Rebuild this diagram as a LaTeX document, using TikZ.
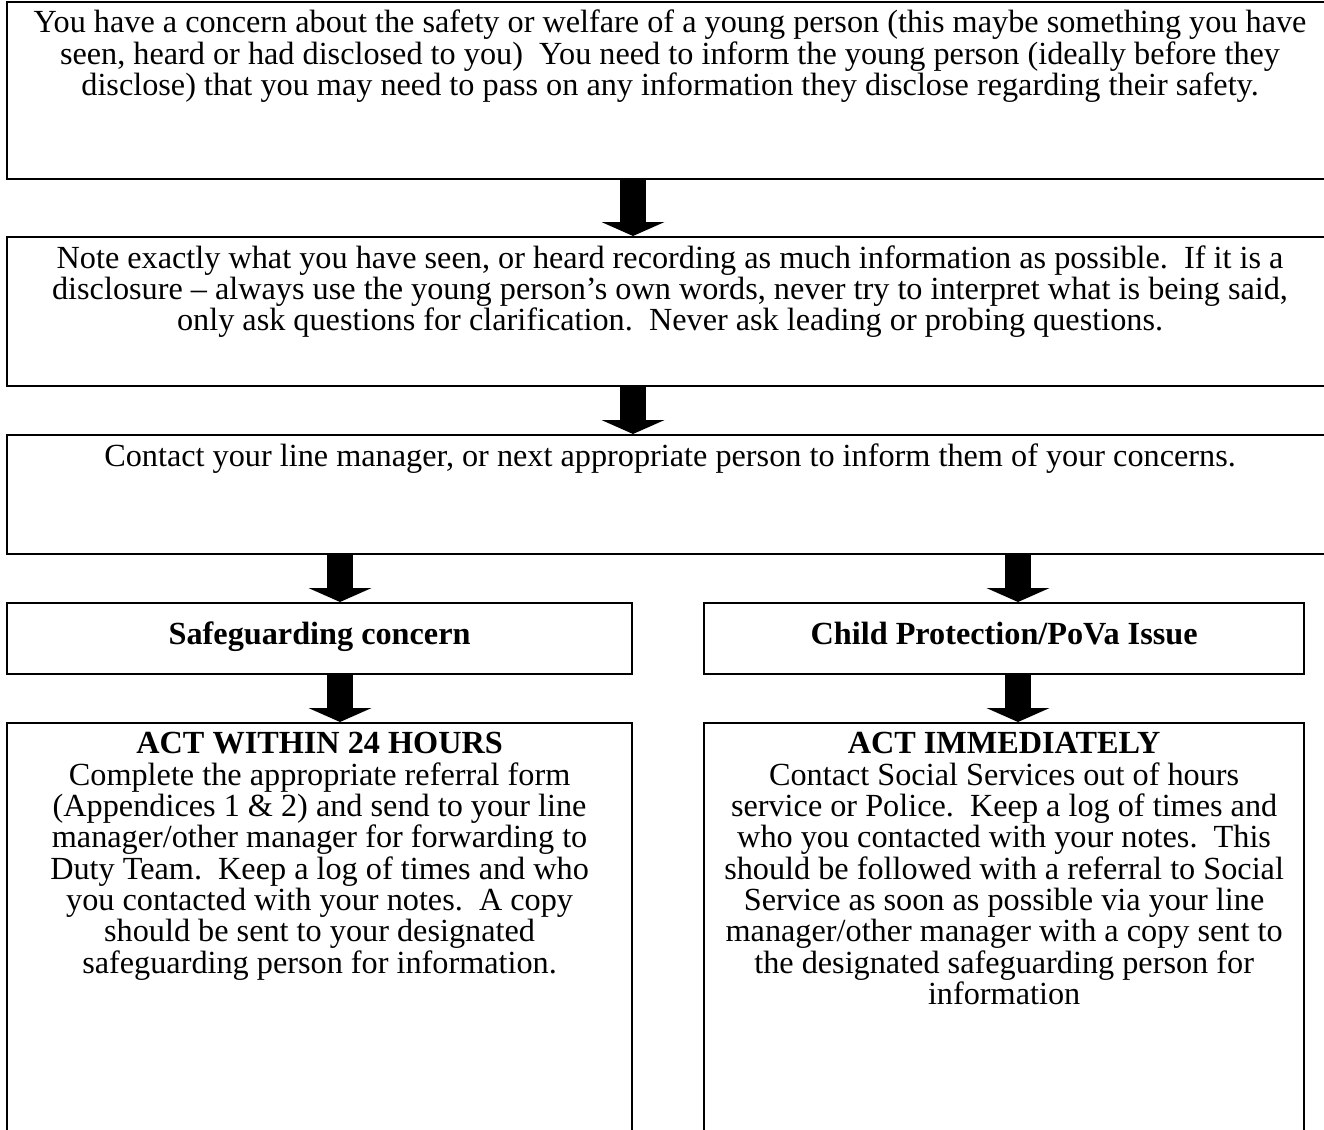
\documentclass[tikz,border=0pt]{standalone}
\usepackage{fontspec}
\setmainfont{Liberation Serif}
\usetikzlibrary{positioning,calc,arrows.meta}

\begin{document}
\begin{tikzpicture}[x=0.445pt,y=-0.445pt,
	font=\fontsize{14.35}{13.95}\selectfont,
	frame/.style={draw, line width=1pt, anchor=north west, inner sep=0pt},
	txt/.style={align=center, inner sep=0pt},
	head/.style={font=\fontsize{14.35}{13.95}\selectfont\bfseries, text height=10pt, text depth=5pt},
	bigarrow/.style={line width=12pt, -{Triangle[width=28pt, length=6.2pt, line width=0pt]}}]

	\useasboundingbox (0,0) rectangle (1324,1130);
	\clip (0,0) rectangle (1324,1130);

	% boxes
	\node[frame,
		minimum width=590pt,
		minimum height=78.8pt
	] (concern) at (6,1) {};

	\node[frame,
		minimum width=590pt,
		minimum height=66.3pt
	] (note) at (6,236) {};

	\node[frame,
		minimum width=590pt,
		minimum height=53pt
	] (contact) at (6,434) {};

	\node[frame, head,
		minimum width=278.1pt,
		minimum height=31.6pt
	] (safe) at (6,602) {Safeguarding concern};

	\node[frame, head,
		minimum width=267pt,
		minimum height=31.6pt
	] (cp) at (703,602) {Child Protection/PoVa Issue};

	\node[frame,
		minimum width=278.1pt,
		minimum height=191.4pt
	] (act24) at (6,722) {};

	\node[frame,
		minimum width=267pt,
		minimum height=191.4pt
	] (actnow) at (703,722) {};

	% texts
	\node[txt, below=3.8pt of concern.north] (concerntext) {You have a concern about the safety or welfare of a young person (this maybe something you have\\
		seen, heard or had disclosed to you)\ \ You need to inform the young person (ideally before they\\
		disclose) that you may need to pass on any information they disclose regarding their safety.};

	\node[txt, below=4pt of note.north] (notetext) {Note exactly what you have seen, or heard recording as much information as possible.\ \ If it is a\\
		disclosure – always use the young person’s own words, never try to interpret what is being said,\\
		only ask questions for clarification.\ \ Never ask leading or probing questions.};

	\node[txt, below=4pt of contact.north] (contacttext) {Contact your line manager, or next appropriate person to inform them of your concerns.};

	\node[txt, below=4.4pt of act24.north] (act24text) {\textbf{ACT WITHIN 24 HOURS}\\
		Complete the appropriate referral form\\
		(Appendices 1 \& 2) and send to your line\\
		manager/other manager for forwarding to\\
		Duty Team.\ \ Keep a log of times and who\\
		you contacted with your notes.\ \ A copy\\
		should be sent to your designated\\
		safeguarding person for information.};

	\node[txt, below=4.4pt of actnow.north] (actnowtext) {\textbf{ACT IMMEDIATELY}\\
		Contact Social Services out of hours\\
		service or Police.\ \ Keep a log of times and\\
		who you contacted with your notes.\ \ This\\
		should be followed with a referral to Social\\
		Service as soon as possible via your line\\
		manager/other manager with a copy sent to\\
		the designated safeguarding person for\\
		information};

	% arrow columns
	\coordinate (mid) at (633,0);
	\coordinate (lft) at (340,0);
	\coordinate (rgt) at (1018,0);

	\draw[bigarrow] (concern.south -| mid) -- (note.north -| mid);
	\draw[bigarrow] (note.south -| mid) -- (contact.north -| mid);
	\draw[bigarrow] (contact.south -| lft) -- (safe.north -| lft);
	\draw[bigarrow] (contact.south -| rgt) -- (cp.north -| rgt);
	\draw[bigarrow] (safe.south -| lft) -- (act24.north -| lft);
	\draw[bigarrow] (cp.south -| rgt) -- (actnow.north -| rgt);

\end{tikzpicture}
\end{document}
